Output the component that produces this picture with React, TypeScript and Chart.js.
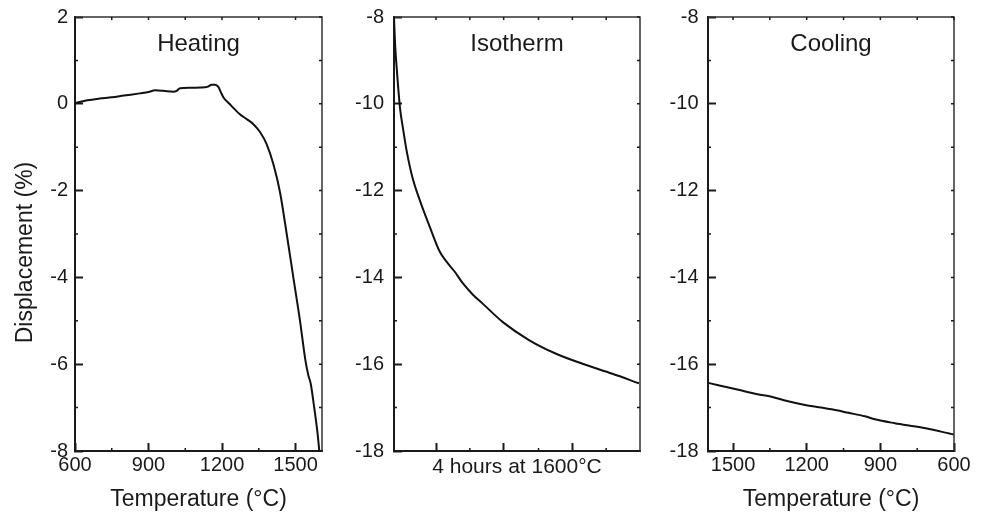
import React, { useEffect, useRef } from "react";
import { Chart, registerables } from "chart.js";

Chart.register(...registerables);

const FONT = '"Liberation Sans", Arial, Helvetica, sans-serif';
const INK = "#1a1a1a";

// ---- Data ----
// Heating: temperature (°C) vs displacement (%)
const heatingTemp = [600, 610, 650, 700, 750, 800, 865, 900, 927, 960, 1001, 1015, 1029, 1070, 1110, 1140, 1158, 1172, 1185, 1195, 1206, 1230, 1273, 1300, 1328, 1355, 1382, 1410, 1437, 1464, 1491, 1518, 1540, 1552, 1562, 1575, 1590, 1597];
const heatingDisp = [0.02, 0.03, 0.08, 0.12, 0.15, 0.19, 0.24, 0.27, 0.31, 0.3, 0.28, 0.3, 0.36, 0.37, 0.375, 0.39, 0.44, 0.44, 0.39, 0.27, 0.145, 0.0, -0.24, -0.35, -0.47, -0.65, -0.93, -1.4, -2.05, -3.0, -4.0, -4.99, -5.9, -6.25, -6.45, -6.95, -7.6, -8.0];

// Isotherm: time (min, 4 h at 1600 °C) vs displacement (%)
const isoTime = [0, 1, 2.6, 5.8, 9, 12.3, 18, 25.3, 35, 44.7, 52, 59.3, 67.3, 77, 86.8, 106.2, 132.1, 158.1, 183.9, 213.1, 239];
const isoDisp = [-8.0, -8.6, -9.16, -10.08, -10.6, -11.08, -11.7, -12.23, -12.84, -13.41, -13.66, -13.87, -14.14, -14.4, -14.61, -15.03, -15.45, -15.76, -15.99, -16.22, -16.44];

// Cooling: temperature (°C, decreasing) vs displacement (%)
const coolTemp = [1601, 1478, 1400, 1343, 1280, 1207, 1098, 1030, 963, 922, 841, 732, 600];
const coolDisp = [-16.43, -16.59, -16.69, -16.75, -16.85, -16.94, -17.04, -17.12, -17.2, -17.27, -17.36, -17.46, -17.62];

// Ticks
const tempTicks = [600, 900, 1200, 1500];
const tempMinorTicks = [750, 1050, 1350];
const heatingYTicks = [-8, -6, -4, -2, 0, 2];
const heatingYMinor = [-7, -5, -3, -1, 1];
const lowYTicks = [-18, -16, -14, -12, -10, -8];
const lowYMinor = [-17, -15, -13, -11, -9];
const isoTicks = [41, 107, 174];
const isoMinorTicks = [74, 141, 207];

// Texts
const panelTitles = ["Heating", "Isotherm", "Cooling"];
const yAxisTitle = "Displacement (%)";
const tempAxisTitle = "Temperature (°C)";
const isoAxisTitle = "4 hours at 1600°C";

const framePlugin = {
  id: "frame",
  afterDraw(chart: any, _args: any, opts: any) {
    const { ctx, chartArea: a, scales } = chart;
    const X = scales.x;
    const Y = scales.y;
    ctx.save();
    ctx.strokeStyle = "#333";
    ctx.lineWidth = 1.5;
    ctx.beginPath();
    ctx.moveTo(a.left, a.top);
    ctx.lineTo(a.right, a.top);
    ctx.lineTo(a.right, a.bottom + 1);
    ctx.stroke();

    ctx.strokeStyle = INK;
    ctx.beginPath();
    const xAll = [...(opts.xMajor || []), ...(opts.xMinor || [])];
    for (const v of xAll) {
      const px = X.getPixelForValue(v);
      ctx.moveTo(px, a.top);
      ctx.lineTo(px, a.top + 3);
    }
    for (const v of opts.xMinor || []) {
      const px = X.getPixelForValue(v);
      ctx.moveTo(px, a.bottom);
      ctx.lineTo(px, a.bottom - 3);
    }
    const yAll = [...(opts.yMajor || []), ...(opts.yMinor || [])];
    for (const v of yAll) {
      const py = Y.getPixelForValue(v);
      ctx.moveTo(a.right, py);
      ctx.lineTo(a.right - 3, py);
    }
    for (const v of opts.yMinor || []) {
      const py = Y.getPixelForValue(v);
      ctx.moveTo(a.left, py);
      ctx.lineTo(a.left + 3, py);
    }
    ctx.stroke();

    ctx.fillStyle = INK;
    ctx.textAlign = "center";
    ctx.textBaseline = "alphabetic";
    if (opts.title) {
      ctx.font = `24px ${FONT}`;
      ctx.fillText(opts.title, (a.left + a.right) / 2, a.top + 34);
    }
    if (opts.yTitle) {
      ctx.font = `23px ${FONT}`;
      ctx.translate(32, chart.height / 2 - 4);
      ctx.rotate(-Math.PI / 2);
      ctx.fillText(opts.yTitle, 0, 0);
    }
    ctx.restore();
  },
};

type PanelSpec = {
  xs: number[];
  ys: number[];
  xMin: number;
  xMax: number;
  reverse: boolean;
  xTicks: number[];
  xMinor: number[];
  showXLabels: boolean;
  xTitle: string;
  xTitleSize: number;
  xTitlePad: number;
  yMin: number;
  yMax: number;
  yTicks: number[];
  yMinor: number[];
  yWidth: number;
  yPad: number;
  rightPad: number;
  title: string;
  yTitle?: string;
};

function makeConfig(p: PanelSpec): any {
  return {
    type: "line",
    data: {
      datasets: [
        {
          data: p.xs.map((x, i) => ({ x, y: p.ys[i] })),
          borderColor: "#111",
          borderWidth: 2,
          pointRadius: 0,
          fill: false,
          cubicInterpolationMode: "monotone",
        },
      ],
    },
    options: {
      responsive: false,
      animation: false,
      events: [],
      layout: { padding: { top: 17, right: p.rightPad, left: 0, bottom: 0 } },
      plugins: {
        legend: { display: false },
        tooltip: { enabled: false },
        frame: {
          title: p.title,
          xMajor: p.xTicks,
          xMinor: p.xMinor,
          yMajor: p.yTicks,
          yMinor: p.yMinor,
          yTitle: p.yTitle,
        },
      },
      scales: {
        x: {
          type: "linear",
          min: p.xMin,
          max: p.xMax,
          reverse: p.reverse,
          afterBuildTicks: (s: any) => {
            s.ticks = p.xTicks.map((v) => ({ value: v }));
          },
          afterFit: (s: any) => {
            s.height = 62;
            s.paddingLeft = 0;
            s.paddingRight = 0;
            s.paddingTop = 0;
            s.paddingBottom = 0;
          },
          grid: { drawOnChartArea: false, tickLength: -8, tickWidth: 2, tickColor: INK },
          border: { display: true, width: 2, color: INK },
          ticks: {
            autoSkip: false,
            maxRotation: 0,
            padding: 10,
            color: INK,
            font: { family: FONT, size: 20 },
            callback: (v: any) => (p.showXLabels ? String(v) : ""),
          },
          title: {
            display: true,
            text: p.xTitle,
            color: INK,
            font: { family: FONT, size: p.xTitleSize },
            padding: { top: 0, bottom: p.xTitlePad },
          },
        },
        y: {
          type: "linear",
          min: p.yMin,
          max: p.yMax,
          afterBuildTicks: (s: any) => {
            s.ticks = p.yTicks.map((v) => ({ value: v }));
          },
          afterFit: (s: any) => {
            s.width = p.yWidth;
            s.paddingLeft = 0;
            s.paddingRight = 0;
            s.paddingTop = 0;
            s.paddingBottom = 0;
          },
          grid: { drawOnChartArea: false, tickLength: -8, tickWidth: 2, tickColor: INK },
          border: { display: true, width: 2, color: INK },
          ticks: {
            autoSkip: false,
            padding: p.yPad,
            color: INK,
            font: { family: FONT, size: 20 },
            callback: (v: any) => String(v),
          },
        },
      },
    },
    plugins: [framePlugin],
  };
}

function Panel({ spec, left, width }: { spec: PanelSpec; left: number; width: number }) {
  const ref = useRef<HTMLCanvasElement>(null);
  useEffect(() => {
    const chart = new Chart(ref.current as HTMLCanvasElement, makeConfig(spec));
    return () => chart.destroy();
  }, []);
  return (
    <canvas
      ref={ref}
      width={width}
      height={513}
      style={{ position: "absolute", left, top: 0, width, height: 513 }}
    />
  );
}

const heatingSpec: PanelSpec = {
  xs: heatingTemp,
  ys: heatingDisp,
  xMin: 600,
  xMax: 1608,
  reverse: false,
  xTicks: tempTicks,
  xMinor: tempMinorTicks,
  showXLabels: true,
  xTitle: tempAxisTitle,
  xTitleSize: 23,
  xTitlePad: 0,
  yMin: -8,
  yMax: 2,
  yTicks: heatingYTicks,
  yMinor: heatingYMinor,
  yWidth: 75,
  yPad: 15,
  rightPad: 18,
  title: panelTitles[0],
  yTitle: yAxisTitle,
};

const isoSpec: PanelSpec = {
  xs: isoTime,
  ys: isoDisp,
  xMin: 0,
  xMax: 240,
  reverse: false,
  xTicks: isoTicks,
  xMinor: isoMinorTicks,
  showXLabels: false,
  xTitle: isoAxisTitle,
  xTitleSize: 21,
  xTitlePad: 33,
  yMin: -18,
  yMax: -8,
  yTicks: lowYTicks,
  yMinor: lowYMinor,
  yWidth: 54,
  yPad: 18,
  rightPad: 20,
  title: panelTitles[1],
};

const coolSpec: PanelSpec = {
  xs: coolTemp,
  ys: coolDisp,
  xMin: 600,
  xMax: 1602,
  reverse: true,
  xTicks: tempTicks,
  xMinor: tempMinorTicks,
  showXLabels: true,
  xTitle: tempAxisTitle,
  xTitleSize: 23,
  xTitlePad: 0,
  yMin: -18,
  yMax: -8,
  yTicks: lowYTicks,
  yMinor: lowYMinor,
  yWidth: 48,
  yPad: 17.5,
  rightPad: 30,
  title: panelTitles[2],
};

export default function App() {
  return (
    <div
      style={{
        position: "absolute",
        left: 0,
        top: 0,
        width: 984,
        height: 513,
        background: "#fff",
        overflow: "hidden",
      }}
    >
      <Panel spec={heatingSpec} left={0} width={340} />
      <Panel spec={isoSpec} left={340} width={320} />
      <Panel spec={coolSpec} left={660} width={324} />
    </div>
  );
}
